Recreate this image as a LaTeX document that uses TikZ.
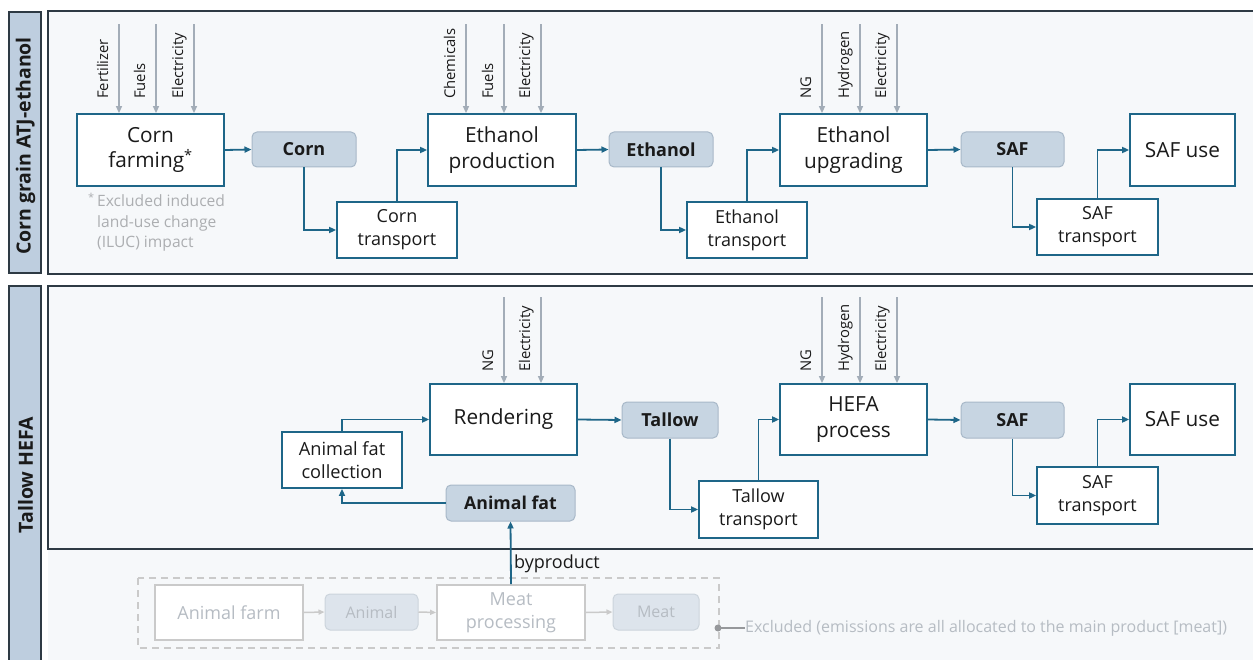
\documentclass[tikz,border=0pt]{standalone}
\usepackage{fontspec}
\setmainfont{Open Sans}
\usetikzlibrary{arrows.meta,calc}
\definecolor{conn}{RGB}{30,102,136}
\definecolor{prodfill}{RGB}{199,213,226}
\definecolor{prodline}{RGB}{168,184,200}
\definecolor{inpc}{RGB}{163,173,184}
\definecolor{panelbg}{RGB}{246,248,250}
\definecolor{panelline}{RGB}{46,58,68}
\definecolor{bandfill}{RGB}{190,206,223}
\definecolor{txt}{RGB}{26,26,26}
\definecolor{fadetxt}{RGB}{182,188,195}
\definecolor{fadeline}{RGB}{202,202,202}
\definecolor{fadefill}{RGB}{221,228,236}
\definecolor{fadeprodline}{RGB}{204,212,220}
\definecolor{notec}{RGB}{172,174,177}
\definecolor{dotc}{RGB}{150,152,155}
\begin{document}
\begin{tikzpicture}[x=1pt,y=-1pt,
  every node/.style={text=txt},
  dim/.style 2 args={minimum width=#1, minimum height=#2},
  proc/.style={draw=conn, line width=1.8pt, fill=white, align=center, inner sep=0pt,
    font=\fontsize{20.8}{25.5}\selectfont},
  small/.style={draw=conn, line width=1.8pt, fill=white, align=center, inner sep=0pt,
    font=\fontsize{18}{23}\selectfont},
  prod/.style={draw=prodline, line width=1pt, fill=prodfill, rounded corners=5pt,
    inner sep=0pt, font=\bfseries\fontsize{18}{21}\selectfont},
  conn/.style={draw=conn, line width=1.8pt, -{Triangle[length=7pt,width=6pt]}},
  inp/.style={draw=inpc, line width=1.5pt, -{Triangle[length=7pt,width=6pt]}},
  lbl/.style={rotate=90, anchor=base west, inner sep=0pt, font=\fontsize{14.8}{16}\selectfont},
  fproc/.style={draw=fadeline, line width=1.8pt, fill=white, align=center, inner sep=0pt,
    text=fadetxt, font=\fontsize{18}{23}\selectfont},
  fprod/.style={draw=fadeprodline, line width=1pt, fill=fadefill, rounded corners=5pt,
    inner sep=0pt, text=fadetxt, font=\fontsize{16}{20}\selectfont},
  fconn/.style={draw=fadeline, line width=1.5pt, -{Triangle[length=6pt,width=5pt]}},
  band/.style={draw=panelline, line width=1.8pt, fill=bandfill},
  panel/.style={draw=panelline, line width=1.8pt, fill=panelbg}
]
\useasboundingbox (0,0) rectangle (1253,660);
\fill[white] (0,0) rectangle (1253,660);
% backgrounds
\fill[panelbg] (48,286) rectangle (1256,662);
\path[band] (9,12) rectangle (41,273);
\path[panel] (48,11) rectangle (1258,274);
\path[band] (9,286) rectangle (41,664);
\path[panel] (48,286) rectangle (1258,549);
\node[rotate=90, font=\bfseries\fontsize{19.5}{22}\selectfont] (t1) at (25.5,146) {Corn grain ATJ-ethanol};
\node[rotate=90, font=\bfseries\fontsize{19.5}{22}\selectfont] (t2) at (25.5,475) {Tallow HEFA};

% ---------- top row ----------
\node[proc, dim={147pt}{72pt}] (cf) at (150.5,150) {Corn\\farming\textsuperscript{*}};
\node[prod, dim={104pt}{35pt}] (corn) at (304,149.5) {Corn};
\node[small, dim={120pt}{56pt}] (ct) at (397,230) {Corn\\transport};
\node[proc, dim={148pt}{72pt}] (ep) at (502,150) {Ethanol\\production};
\node[prod, dim={104pt}{35pt}] (eth) at (661,149.5) {Ethanol};
\node[small, dim={120pt}{56pt}] (et) at (747,230) {Ethanol\\transport};
\node[proc, dim={147pt}{72pt}] (eu) at (853.5,150) {Ethanol\\upgrading};
\node[prod, dim={103pt}{35pt}] (saf1) at (1012.5,149.5) {SAF};
\node[small, dim={121pt}{56pt}] (st1) at (1097.5,227) {SAF\\transport};
\node[proc, dim={105pt}{72pt}] (su1) at (1182.5,150) {SAF use};

\node[anchor=north west, align=left, inner sep=0pt, text=notec,
  font=\fontsize{15.6}{20.5}\selectfont] (note) at (97,193)
  {\llap{\textsuperscript{*}\,}Excluded induced\\land-use change\\(ILUC) impact};

\draw[conn] (cf.east) -- (corn.west);
\draw[conn] (corn.south) |- (ct.west);
\draw[conn] (ct.north) |- (ep.west);
\draw[conn] (ep.east) -- (eth.west);
\draw[conn] (eth.south) |- (et.west);
\draw[conn] (et.north) |- (eu.west);
\draw[conn] (eu.east) -- (saf1.west);
\draw[conn] (saf1.south) |- (st1.west);
\draw[conn] (st1.north) |- (su1.west);

% inputs
\foreach \n/\dx/\lab in {cf/-31.5/Fertilizer, cf/5.5/Fuels, cf/43.5/Electricity,
  ep/-36/Chemicals, ep/2/Fuels, ep/39/Electricity,
  eu/-31.5/NG, eu/6.5/Hydrogen, eu/43.5/Electricity}{
  \draw[inp] ([xshift=\dx pt, yshift=89pt]\n.north) -- ([xshift=\dx pt]\n.north);
  \node[lbl] at ([xshift={\dx pt-11pt}, yshift=14pt]\n.north) {\lab};
}

% ---------- bottom row ----------
\node[proc, dim={147pt}{71pt}] (rend) at (503.5,419.5) {Rendering};
\node[prod, dim={96pt}{36pt}] (tal) at (670,420) {Tallow};
\node[small, dim={119pt}{57pt}] (tt) at (758.5,509.5) {Tallow\\transport};
\node[proc, dim={147pt}{71pt}] (hefa) at (853.5,419.5) {HEFA\\process};
\node[prod, dim={103pt}{36pt}] (saf2) at (1012.5,420) {SAF};
\node[small, dim={121pt}{57pt}] (st2) at (1097.5,495.5) {SAF\\transport};
\node[proc, dim={105pt}{71pt}] (su2) at (1182.5,419.5) {SAF use};
\node[small, dim={120pt}{56pt}, font=\fontsize{18.2}{23}\selectfont] (afc) at (342,460) {Animal fat\\collection};
\node[prod, dim={129pt}{36pt}, font=\bfseries\fontsize{17.7}{20}\selectfont] (af) at (510.5,503) {Animal fat};

\draw[conn] (afc.north) |- (rend.west);
\draw[conn] (rend.east) -- (tal.west);
\draw[conn] (tal.south) |- (tt.west);
\draw[conn] (tt.north) |- (hefa.west);
\draw[conn] (hefa.east) -- (saf2.west);
\draw[conn] (saf2.south) |- (st2.west);
\draw[conn] (st2.north) |- (su2.west);
\draw[conn] (af.west) -| (afc.south);

\foreach \n/\dx/\lab in {rend/0.5/NG, rend/37.5/Electricity,
  hefa/-31.5/NG, hefa/6.5/Hydrogen, hefa/43.5/Electricity}{
  \draw[inp] ([xshift=\dx pt, yshift=86pt]\n.north) -- ([xshift=\dx pt]\n.north);
  \node[lbl] at ([xshift={\dx pt-11pt}, yshift=11pt]\n.north) {\lab};
}

% ---------- excluded ----------
\draw[fadeline, line width=1.2pt, dash pattern=on 7pt off 5pt] (138,578) rectangle (719,648);
\node[fproc, dim={148pt}{55pt}] (farm) at (229,612.5) {Animal farm};
\node[fprod, dim={93pt}{36pt}] (animal) at (371.5,612) {Animal};
\node[fproc, dim={148pt}{55pt}] (mp) at (511,612.5) {Meat\\processing};
\node[fprod, dim={86pt}{36pt}] (meat) at (656,612) {Meat};
\draw[fconn] (farm.east) -- (animal.west);
\draw[fconn] (animal.east) -- (mp.west);
\draw[fconn] (mp.east) -- (meat.west);

\draw[conn] (mp.north) -- (af.south);
\node[anchor=west, inner sep=0pt, font=\fontsize{18}{22}\selectfont] (bp) at (514,564) {byproduct};

\coordinate (dot) at (718,628);
\fill[dotc] (dot) circle (3.5pt);
\node[anchor=west, inner sep=0pt, text=fadetxt, font=\fontsize{16}{19}\selectfont] (ex) at (745,628)
  {Excluded (emissions are all allocated to the main product [meat])};
\draw[dotc, line width=1.2pt] (dot) -- (ex.west);
\end{tikzpicture}
\end{document}
